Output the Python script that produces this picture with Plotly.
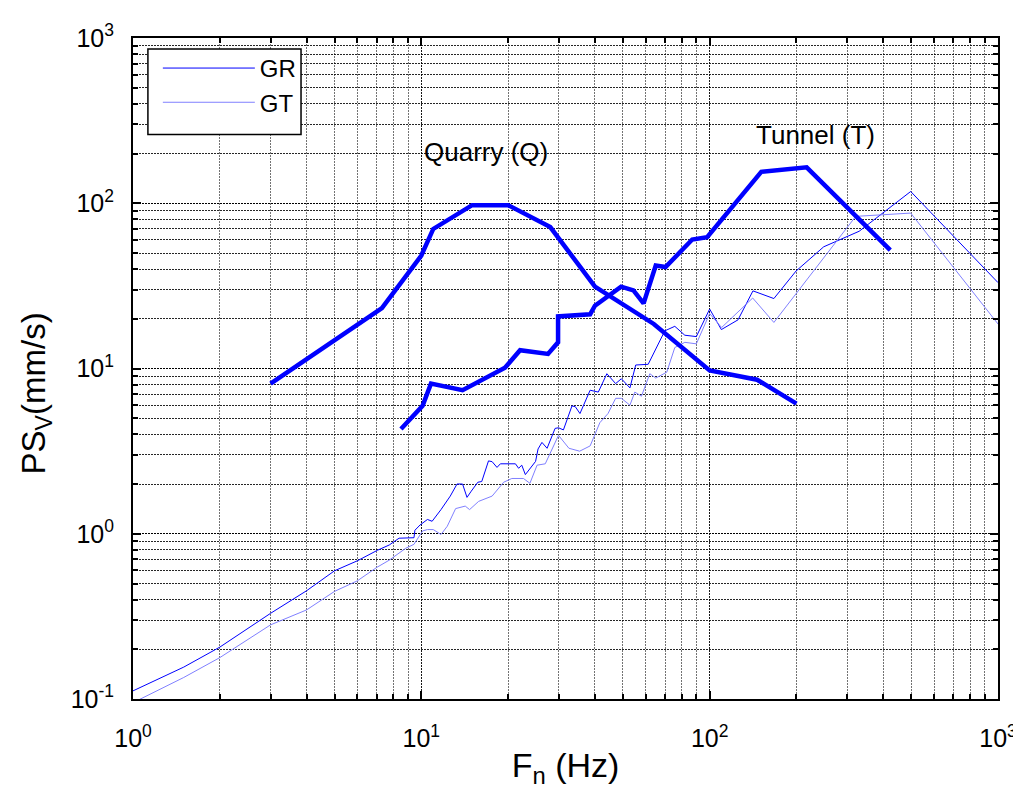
import plotly.graph_objects as go

# ---------------- data ----------------
gr_f = [1.0, 1.5, 2.0, 3.0, 4.0, 5.0, 6.0, 7.05, 7.74, 8.37, 9.43, 9.5, 9.9, 10.5, 10.9,
        11.7, 12.6, 13.3, 13.9, 14.4, 14.9, 15.7, 16.2, 17.1, 17.6, 18.3, 18.8, 21.2,
        21.75, 22.3, 22.95, 24.9, 25.4, 26.2, 27.3, 29.1, 29.9, 31.1, 33.3, 34.2, 35.5,
        38.5, 41.1, 44.0, 47.2, 49.4, 52.9, 55.4, 61.2, 69.9, 75.7, 82.0, 89.9, 100.0,
        109.8, 125.4, 141.3, 167.0, 199.4, 248.6, 330.0, 498.0, 1000.0]
gr_v = [0.112, 0.156, 0.206, 0.330, 0.452, 0.597, 0.686, 0.795, 0.855, 0.94, 0.946, 1.05,
        1.13, 1.22, 1.19, 1.40, 1.69, 2.0, 2.0, 1.66, 1.81, 2.05, 2.07, 2.76, 2.73, 2.52,
        2.65, 2.65, 2.49, 2.6, 2.28, 2.74, 3.26, 3.57, 3.29, 4.34, 4.38, 4.25, 5.94, 5.87,
        5.34, 7.39, 7.2, 9.3, 8.1, 8.67, 7.63, 10.5, 10.6, 16.9, 18.0, 15.9, 15.6, 22.9,
        17.2, 19.7, 29.5, 26.5, 38.9, 54.5, 67.7, 117.8, 33.1]

gt_f = [1.0, 1.5, 2.0, 3.0, 4.0, 5.0, 6.0, 7.0, 7.74, 8.83, 9.43, 10.1, 10.5, 11.0, 11.7,
        12.3, 13.15, 14.2, 14.7, 15.8, 17.6, 19.3, 20.6, 22.6, 23.8, 25.2, 26.9, 29.9,
        32.5, 35.4, 38.5, 41.6, 44.4, 47.2, 49.4, 52.9, 55.0, 58.0, 62.0, 65.0, 71.0,
        75.7, 82.0, 89.9, 100.0, 110.0, 141.0, 167.0, 321.0, 498.0, 1000.0]
gt_v = [0.095, 0.135, 0.178, 0.281, 0.346, 0.448, 0.519, 0.625, 0.692, 0.817, 0.863, 1.04,
        1.06, 1.06, 0.99, 1.11, 1.42, 1.47, 1.40, 1.57, 1.69, 2.05, 2.16, 2.16, 2.02, 2.6,
        2.65, 3.94, 3.29, 3.16, 3.4, 4.7, 5.34, 6.6, 6.6, 6.0, 7.2, 6.8, 9.3, 8.75, 9.5,
        13.4, 14.4, 14.1, 21.5, 17.7, 26.7, 19.0, 83.3, 87.2, 18.6]

quarry_f = [3, 7.3, 10, 11, 15, 20, 28, 40, 64, 100, 146, 200]
quarry_v = [8.1, 23.2, 48.3, 69.9, 97.4, 97.4, 71.8, 31.3, 18.6, 9.74, 8.55, 6.13]

tunnel_f = [8.5, 10.1, 10.8, 13.9, 19.5, 22, 27.5, 29.8, 29.8, 38.5, 40, 49.3, 54.4, 59,
            65, 70.3, 87, 98, 151, 217, 423]
tunnel_v = [4.3, 5.94, 8.1, 7.39, 10.1, 12.9, 12.25, 14.4, 20.65, 21.3, 24.0, 31.3, 29.7,
            24.8, 42.0, 41.1, 60.3, 62.3, 155, 165, 52]

x_ticks = [1, 10, 100, 1000]
x_tick_text = ["10<sup>0</sup>", "10<sup>1</sup>", "10<sup>2</sup>", "10<sup>3</sup>"]
y_ticks = [0.1, 1, 10, 100, 1000]
y_tick_text = ["10<sup>-1</sup>", "10<sup>0</sup>", "10<sup>1</sup>", "10<sup>2</sup>", "10<sup>3</sup>"]

# ---------------- figure ----------------
FONT = "Liberation Sans, Arial, sans-serif"
fig = go.Figure()

fig.add_trace(go.Scatter(x=gr_f, y=gr_v, mode="lines", name="GR",
                         line=dict(color="#0000ff", width=1)))
fig.add_trace(go.Scatter(x=gt_f, y=gt_v, mode="lines", name="GT",
                         line=dict(color="#8080ff", width=1)))
fig.add_trace(go.Scatter(x=quarry_f, y=quarry_v, mode="lines", name="Quarry (Q)",
                         showlegend=False, line=dict(color="#0000ff", width=4.5)))
fig.add_trace(go.Scatter(x=tunnel_f, y=tunnel_v, mode="lines", name="Tunnel (T)",
                         showlegend=False, line=dict(color="#0000ff", width=4.5)))

minor_x = [m * 10 ** e for e in range(0, 3) for m in range(2, 10)]
minor_y = [m * 10 ** e for e in range(-1, 3) for m in range(2, 10)]

fig.update_xaxes(type="log", range=[0, 3], tickvals=x_ticks, ticktext=x_tick_text,
                 ticks="inside", ticklen=8, tickwidth=1.5, tickcolor="black",
                 ticklabelstandoff=16,
                 showline=True, linecolor="black", linewidth=2, mirror="allticks",
                 tickfont=dict(size=25, family=FONT, color="black"),
                 title=dict(text="F<sub>n</sub> (Hz)", font=dict(size=34, family=FONT, color="black"),
                            standoff=2),
                 showgrid=True, gridcolor="rgba(0,0,0,0.9)", griddash="2px,1px", gridwidth=1,
                 minor=dict(tickvals=minor_x, ticks="inside", ticklen=5, tickcolor="black",
                            showgrid=True, gridcolor="rgba(0,0,0,0.55)", griddash="2px,1px"),
                 zeroline=False)
fig.update_yaxes(type="log", range=[-1, 3], tickvals=y_ticks, ticktext=y_tick_text,
                 ticks="inside", ticklen=8, tickwidth=1.5, tickcolor="black",
                 ticklabelstandoff=12,
                 showline=True, linecolor="black", linewidth=2, mirror="allticks",
                 tickfont=dict(size=25, family=FONT, color="black"),
                 showgrid=True, gridcolor="rgba(0,0,0,1)", griddash="2px,1px", gridwidth=1,
                 minor=dict(tickvals=minor_y, ticks="inside", ticklen=5, tickcolor="black",
                            showgrid=True, gridcolor="rgba(0,0,0,0.85)", griddash="2px,1px"),
                 zeroline=False)

# plot area in page pixels: x 133..1003, y 34..699 (page body has an 8px margin)
PX0, PX1, PY0, PY1 = 133, 1003, 34, 699


def px_x(x):
    return (x - PX0) / (PX1 - PX0)


def px_y(y):
    return (PY1 - y) / (PY1 - PY0)


# legend box
fig.add_shape(type="rect", xref="paper", yref="paper",
              x0=px_x(148), x1=px_x(302), y0=px_y(131), y1=px_y(45),
              line=dict(color="black", width=1.5), fillcolor="white", layer="above")

fig.update_layout(
    width=1021, height=794,
    margin=dict(l=125, r=26, t=26, b=103),
    paper_bgcolor="white", plot_bgcolor="white",
    font=dict(family=FONT, color="black"),
    showlegend=True,
    legend=dict(x=px_x(158), y=px_y(42), xanchor="left", yanchor="top",
                bgcolor="rgba(0,0,0,0)", borderwidth=0, itemwidth=92,
                font=dict(size=24, family=FONT, color="black")),
    annotations=[
        dict(x=1.223, y=2.313, xref="x", yref="y", text="Quarry (Q)", showarrow=False,
             font=dict(size=26, family=FONT, color="black")),
        dict(x=2.368, y=2.416, xref="x", yref="y", text="Tunnel (T)", showarrow=False,
             font=dict(size=26, family=FONT, color="black")),
        dict(x=px_x(35), y=px_y(392), xref="paper", yref="paper", text="PS<sub>V</sub>(mm/s)",
             showarrow=False, textangle=-90, xanchor="center", yanchor="middle",
             font=dict(size=33, family=FONT, color="black")),
    ],
)

fig.write_html("out.html")
